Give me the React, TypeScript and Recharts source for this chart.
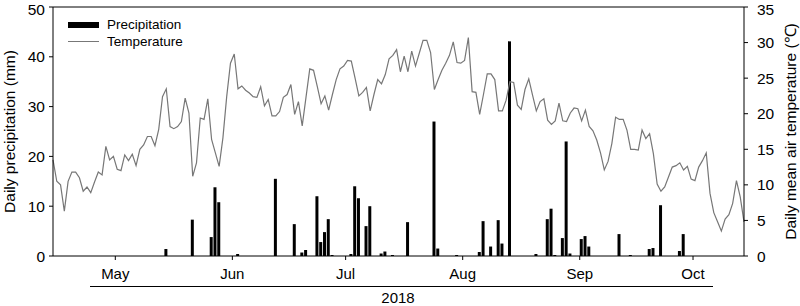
import React from "react";
import { ComposedChart, Bar, Line, XAxis, YAxis, ReferenceLine } from "recharts";

// Daily series, day 0 = 15 April 2018, last day = 15 October 2018
const monthTicks = [16.5, 47.5, 77.5, 108.5, 139.5, 169.5];
const monthLabels = ["May", "Jun", "Jul", "Aug", "Sep", "Oct"];
const precipTicks = [0, 10, 20, 30, 40, 50];
const tempTicks = [0, 5, 10, 15, 20, 25, 30, 35];
const seriesNames = ["Precipitation", "Temperature"];

// Daily mean air temperature (°C)
const temperature = [
  13.5, 10.5, 10.0, 6.3, 10.5, 11.8, 11.8, 11.0, 9.1, 9.7,
  8.9, 10.4, 11.8, 11.4, 15.4, 13.5, 14.0, 12.2, 12.0, 14.2,
  13.4, 14.3, 12.7, 15.0, 15.6, 16.8, 16.8, 15.5, 17.8, 22.4,
  23.5, 18.2, 17.9, 18.2, 18.9, 22.2, 20.1, 11.2, 13.1, 19.4,
  19.2, 22.1, 16.4, 14.5, 12.6, 16.6, 22.4, 27.1, 28.4, 23.5,
  23.9, 23.3, 22.9, 22.4, 22.3, 23.8, 21.1, 22.0, 19.7, 19.7,
  20.3, 22.3, 22.7, 24.1, 19.9, 21.7, 18.3, 22.3, 26.3, 26.1,
  23.8, 21.4, 22.5, 20.5, 22.7, 24.8, 26.3, 26.7, 27.5, 27.4,
  25.0, 22.5, 23.0, 23.7, 20.4, 22.7, 24.8, 24.2, 25.5, 27.7,
  28.2, 29.0, 25.9, 28.1, 25.9, 28.8, 26.7, 28.5, 30.3, 30.3,
  28.6, 23.4, 24.8, 26.1, 27.1, 28.2, 30.1, 27.2, 27.1, 27.5,
  30.7, 23.1, 23.0, 19.9, 22.7, 25.6, 25.6, 24.8, 20.4, 20.4,
  21.9, 24.5, 24.4, 21.2, 20.6, 23.4, 24.9, 22.6, 20.4, 21.7,
  22.1, 19.1, 18.5, 19.0, 21.5, 19.0, 18.9, 20.1, 20.8, 20.7,
  19.0, 20.5, 18.2, 17.6, 16.3, 14.5, 12.1, 13.3, 15.8, 19.5,
  19.2, 19.2, 17.7, 15.0, 15.0, 14.9, 17.7, 16.5, 17.2, 14.4,
  10.1, 9.1, 9.7, 11.1, 12.5, 12.7, 13.1, 12.1, 12.6, 10.8,
  10.6, 12.5, 13.4, 14.5, 8.8, 6.1, 4.8, 3.5, 5.2, 5.8,
  7.4, 10.6, 8.3, 4.8,
];

// Rainy days (day index) and daily precipitation (mm)
const rainDays = [
  30, 37, 42, 43, 44, 49, 59, 64, 66, 67, 70, 71, 72, 73, 74, 79, 80, 81, 83, 84,
  87, 88, 90, 94, 101, 102, 107, 113, 114, 116, 118, 119, 121, 128, 131, 132, 133,
  135, 136, 137, 140, 141, 142, 150, 153, 158, 159, 161, 166, 167,
];
const rainMm = [
  1.4, 7.3, 3.8, 13.8, 10.8, 0.4, 15.5, 6.4, 0.7, 1.2, 12.0, 2.8, 4.8, 7.4, 0.2, 0.4, 14.0, 11.6, 6.0, 10.0,
  0.5, 0.9, 0.2, 6.8, 27.0, 1.5, 0.2, 0.8, 7.0, 1.9, 7.2, 2.5, 43.1, 0.4, 7.4, 9.5, 0.2,
  3.6, 23.0, 0.5, 3.4, 4.0, 1.9, 4.4, 0.2, 1.4, 1.6, 10.2, 1.0, 4.4,
];

const FONT = "'Liberation Sans', Arial, sans-serif";

const data = temperature.map((t, i) => {
  const k = rainDays.indexOf(i);
  return { day: i, temp: t, rain: k >= 0 ? rainMm[k] : null };
});

// legend drawn as plain html on top of the plot (a recharts Legend would squeeze the plot)
const LegendBox = () => (
  <div
    style={{
      position: "absolute", left: 68, top: 16, fontFamily: FONT, fontSize: 13.5,
      color: "#000", lineHeight: "17px",
    }}
  >
    <div style={{ display: "flex", alignItems: "center" }}>
      <span style={{ display: "inline-block", width: 31, height: 6, background: "#000", marginRight: 8 }} />
      {seriesNames[0]}
    </div>
    <div style={{ display: "flex", alignItems: "center" }}>
      <span style={{ display: "inline-block", width: 31, height: 1, background: "#777", marginRight: 8 }} />
      {seriesNames[1]}
    </div>
  </div>
);

export default function App() {
  return (
    <div style={{ position: "absolute", left: 0, top: 0, width: 800, height: 306, background: "#fff" }}>
      <ComposedChart
        width={800}
        height={306}
        data={data}
        margin={{ top: 7, right: 0, bottom: 0, left: 0 }}
      >
        <XAxis
          dataKey="day"
          type="number"
          domain={[0, 183]}
          ticks={monthTicks}
          tickFormatter={(v: number) => monthLabels[monthTicks.indexOf(v)]}
          height={50}
          tickSize={4}
          tickMargin={8}
          stroke="#000"
          tick={{ fill: "#000", fontSize: 15, fontFamily: FONT }}
        />
        <YAxis
          yAxisId="left"
          domain={[0, 50]}
          ticks={precipTicks}
          width={53}
          tickSize={4}
          tickMargin={4}
          stroke="#000"
          tick={{ fill: "#000", fontSize: 15.5, fontFamily: FONT }}
          label={{
            content: ({ viewBox }: any) => {
              const cx = viewBox.x + 9.5;
              const cy = viewBox.y + viewBox.height / 2;
              return (
                <text x={cx} y={cy} transform={`rotate(-90, ${cx}, ${cy})`} textAnchor="middle"
                  dominantBaseline="central" fontSize={15.5} fontFamily={FONT} fill="#000">
                  Daily precipitation (mm)
                </text>
              );
            },
          }}
        />
        <YAxis
          yAxisId="right"
          orientation="right"
          domain={[0, 35]}
          ticks={tempTicks}
          width={56}
          tickSize={4}
          tickMargin={9}
          stroke="#000"
          tick={{ fill: "#000", fontSize: 15.5, fontFamily: FONT, textAnchor: "start" }}
          label={{
            content: ({ viewBox }: any) => {
              const cx = viewBox.x + 46;
              const cy = viewBox.y + viewBox.height / 2;
              return (
                <text x={cx} y={cy} transform={`rotate(-90, ${cx}, ${cy})`} textAnchor="middle"
                  dominantBaseline="central" fontSize={15.5} fontFamily={FONT} fill="#000">
                  Daily mean air temperature (℃)
                </text>
              );
            },
          }}
        />
        <ReferenceLine yAxisId="left" y={50} stroke="#000" strokeWidth={1} />
        <Bar
          yAxisId="left"
          dataKey="rain"
          name={seriesNames[0]}
          fill="#000"
          barSize={3}
          isAnimationActive={false}
        />
        <Line
          yAxisId="right"
          dataKey="temp"
          name={seriesNames[1]}
          type="linear"
          stroke="#777"
          strokeWidth={1.2}
          dot={false}
          isAnimationActive={false}
        />
      </ComposedChart>
      <LegendBox />
      <div style={{ position: "absolute", left: 90, top: 286, width: 623, borderTop: "1px solid #000" }} />
      <div
        style={{
          position: "absolute", left: 358, top: 289, width: 80, textAlign: "center",
          fontFamily: FONT, fontSize: 15, lineHeight: "17px", color: "#000",
        }}
      >
        2018
      </div>
    </div>
  );
}
